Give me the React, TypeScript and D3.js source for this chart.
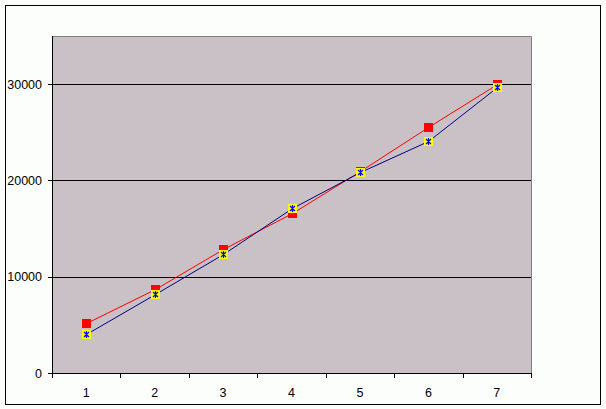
import React from "react";
import * as d3 from "d3";

const categories = ["1", "2", "3", "4", "5", "6", "7"];
const seriesRed = [5200, 8700, 12900, 16600, 21000, 25600, 30000];
const seriesBlue = [4100, 8200, 12400, 17100, 20900, 24100, 29700];
const yTicks = [0, 10000, 20000, 30000];

const W = 606;
const H = 409;
const plot = { left: 52, top: 36, right: 531, bottom: 373 };

export default function App() {
  const x = d3
    .scaleBand<string>()
    .domain(categories)
    .range([plot.left, plot.right])
    .paddingInner(0)
    .paddingOuter(0);
  const y = d3.scaleLinear().domain([0, 35000]).range([plot.bottom, plot.top]);
  const cx = (c: string) => (x(c) as number) + x.bandwidth() / 2;

  const line = d3
    .line<number>()
    .x((_, i) => Math.round(cx(categories[i])) + 0.5)
    .y((v) => Math.round(y(v)) + 0.5);

  const boundaries = d3.range(categories.length + 1).map((i) => plot.left + i * x.bandwidth());
  const font = "Arial, 'Liberation Sans', sans-serif";

  return (
    <svg
      width={W}
      height={H}
      style={{ position: "absolute", left: 0, top: 0, display: "block", background: "#fcfefc" }}
    >
      <rect x={0} y={0} width={W} height={H} fill="#fcfefc" />
      <rect x={5.5} y={5.5} width={595} height={399} fill="none" stroke="#000" strokeWidth={1} />
      <rect
        x={plot.left}
        y={plot.top}
        width={plot.right - plot.left}
        height={plot.bottom - plot.top}
        fill="#c9c1c5"
      />
      {/* gridlines */}
      {yTicks
        .filter((t) => t > 0)
        .map((t) => (
          <line
            key={t}
            x1={plot.left}
            x2={plot.right}
            y1={Math.round(y(t)) + 0.5}
            y2={Math.round(y(t)) + 0.5}
            stroke="#000"
            strokeWidth={1}
          />
        ))}
      {/* plot border top/right gray */}
      <path
        d={`M${plot.left},${plot.top + 0.5}H${plot.right + 0.5}V${plot.bottom}`}
        fill="none"
        stroke="#808080"
        strokeWidth={1}
      />
      {/* axes */}
      <line x1={plot.left + 0.5} x2={plot.left + 0.5} y1={plot.top} y2={plot.bottom + 1} stroke="#000" />
      <line x1={plot.left} x2={plot.right + 1} y1={plot.bottom + 0.5} y2={plot.bottom + 0.5} stroke="#000" />
      {yTicks.map((t) => (
        <g key={t}>
          <line
            x1={plot.left - 4}
            x2={plot.left}
            y1={Math.round(y(t)) + 0.5}
            y2={Math.round(y(t)) + 0.5}
            stroke="#000"
          />
          <text
            x={42}
            y={y(t)}
            dy="0.36em"
            textAnchor="end"
            fontFamily={font}
            fontSize={12.5}
            fill="#000"
          >
            {t}
          </text>
        </g>
      ))}
      {boundaries.map((b, i) => (
        <line
          key={i}
          x1={Math.round(b) + 0.5}
          x2={Math.round(b) + 0.5}
          y1={plot.bottom}
          y2={plot.bottom + 5}
          stroke="#000"
        />
      ))}
      {categories.map((c) => (
        <text
          key={c}
          x={cx(c)}
          y={397}
          textAnchor="middle"
          fontFamily={font}
          fontSize={12.5}
          fill="#000"
        >
          {c}
        </text>
      ))}
      {/* red series */}
      <path d={line(seriesRed) || ""} fill="none" stroke="#ff0000" strokeWidth={1} />
      {seriesRed.map((v, i) => {
        const px = Math.round(cx(categories[i]));
        const py = Math.round(y(v));
        return <rect key={i} x={px - 4} y={py - 4} width={9} height={9} fill="#ff0000" />;
      })}
      {/* blue series */}
      <path d={line(seriesBlue) || ""} fill="none" stroke="#000080" strokeWidth={1} />
      {seriesBlue.map((v, i) => {
        const px = Math.round(cx(categories[i]));
        const py = Math.round(y(v));
        return (
          <g key={i}>
            <rect x={px - 4} y={py - 4} width={9} height={9} fill="#ffff00" />
            <path
              d={`M${px - 2},${py - 2}L${px + 3},${py + 3}M${px + 3},${py - 2}L${px - 2},${py + 3}M${px + 0.5},${py - 3}V${py + 4}`}
              stroke="#0000ff"
              strokeWidth={1.2}
              fill="none"
            />
          </g>
        );
      })}
    </svg>
  );
}
